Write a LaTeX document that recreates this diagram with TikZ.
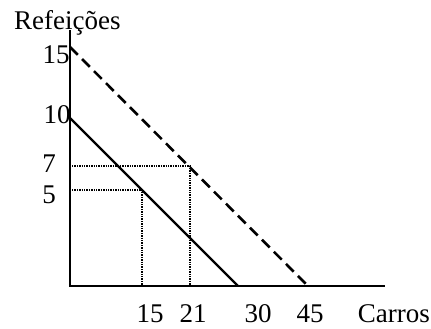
\documentclass[tikz,border=0pt]{standalone}
\usepackage{fontspec}
\setmainfont{Liberation Serif}
\begin{document}
\begin{tikzpicture}[x=1pt,y=-1pt,
  lbl/.style={font=\fontsize{27}{30}\selectfont, inner sep=0pt, anchor=center},
  axis/.style={line width=2.4pt},
  budget/.style={line width=2.2pt},
  newbudget/.style={line width=2.6pt, dash pattern=on 11pt off 6pt},
  guide/.style={line width=2pt, dash pattern=on 1.3pt off 1.1pt}]
\useasboundingbox (0,0) rectangle (431,329);
% axes
\coordinate (O) at (70,286);
\coordinate (ytop) at (70,30);
\coordinate (xend) at (385,286);
\draw[axis] (ytop) -- (O) -- (xend);
% budget lines
\coordinate (b10) at (70,118);
\coordinate (b30) at (238,286);
\coordinate (b15) at (70,47);
\coordinate (b45) at (308,286);
\draw[budget] (b10) -- (b30);
\draw[newbudget] (b15) -- (b45);
% guide lines
\coordinate (y7) at (72,166);
\coordinate (p21) at (190,166);
\coordinate (x21) at (190,285);
\coordinate (y5) at (72,190);
\coordinate (p15) at (142,190);
\coordinate (x15) at (142,285);
\draw[guide] (y7) -- (p21) -- (x21);
\draw[guide] (y5) -- (p15) -- (x15);
% labels
\node[lbl, anchor=west] (ylab) at (14,23) {Refeições};
\node[lbl] (l15) at (56,55) {15};
\node[lbl] (l10) at (57,115) {10};
\node[lbl] (l7) at (49,164) {7};
\node[lbl] (l5) at (49,195) {5};
\node[lbl] (c15) at (150,314) {15};
\node[lbl] (c21) at (193,314) {21};
\node[lbl] (c30) at (258,314) {30};
\node[lbl] (c45) at (310,314) {45};
\node[lbl, anchor=east] (xlab) at (430,314) {Carros};
\end{tikzpicture}
\end{document}
